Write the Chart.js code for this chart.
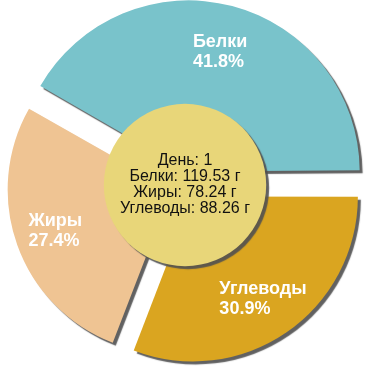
<!DOCTYPE html>
<html>
<head>
<meta charset="utf-8">
<script src="https://cdn.jsdelivr.net/npm/chart.js@4"></script>
<style>
  html, body { margin: 0; padding: 0; background: #fff; }
  #wrap { width: 370px; height: 370px; }
</style>
</head>
<body>
<div id="wrap"><canvas id="chartDay"></canvas></div>
<script>
// day summary data
const dayLabel = 'День: 1';
const categories = ['Углеводы', 'Жиры', 'Белки'];
const grams = [88.26, 78.24, 119.53];
const sliceColors = ['#daa520', '#efc493', '#79c3cb'];

const total = grams.reduce((a, b) => a + b, 0);

// drop shadow for slices and the centre disc
const shadowPlugin = {
    id: 'shadow',
    beforeDatasetsDraw(chart) {
        const ctx = chart.ctx;
        ctx.save();
        ctx.shadowColor = 'rgba(80,80,80,0.9)';
        ctx.shadowBlur = 1;
        ctx.shadowOffsetX = 3;
        ctx.shadowOffsetY = 3;
    },
    afterDatasetsDraw(chart) {
        chart.ctx.restore();
    }
};

// centre disc with the day totals + slice labels
const centrePlugin = {
    id: 'centre',
    afterDatasetsDraw(chart) {
        const ctx = chart.ctx;
        const meta = chart.getDatasetMeta(0);
        const arc0 = meta.data[0];
        const cx = arc0.x, cy = arc0.y;
        const r = arc0.outerRadius * 0.495;

        ctx.save();
        ctx.shadowColor = 'rgba(80,80,80,0.9)';
        ctx.shadowBlur = 1;
        ctx.shadowOffsetX = 3;
        ctx.shadowOffsetY = 3;
        ctx.beginPath();
        ctx.arc(cx, cy, r, 0, Math.PI * 2);
        ctx.fillStyle = '#e8d679';
        ctx.fill();
        ctx.restore();

        ctx.save();
        ctx.fillStyle = '#111';
        ctx.font = '16px "Liberation Sans", Arial, sans-serif';
        ctx.textAlign = 'center';
        ctx.textBaseline = 'middle';
        const lines = [dayLabel].concat(
            ['Белки', 'Жиры', 'Углеводы'].map(n => n + ': ' + grams[categories.indexOf(n)].toFixed(2) + ' г')
        );
        lines.forEach((t, i) => ctx.fillText(t, cx, cy - 24 + i * 16));
        ctx.restore();

        // slice labels
        ctx.save();
        ctx.fillStyle = '#fff';
        ctx.font = 'bold 18px "Liberation Sans", Arial, sans-serif';
        ctx.textAlign = 'left';
        ctx.textBaseline = 'middle';
        meta.data.forEach((arc, i) => {
            const mid = (arc.startAngle + arc.endAngle) / 2;
            const dist = arc.outerRadius * 0.84;
            const ax = arc.x + Math.cos(mid) * dist;
            const ay = arc.y + Math.sin(mid) * dist;
            const pct = (grams[i] / total * 100).toFixed(1) + '%';
            const w = Math.max(ctx.measureText(categories[i]).width, ctx.measureText(pct).width);
            ctx.fillText(categories[i], ax - w / 2, ay - 10);
            ctx.fillText(pct, ax - w / 2, ay + 10);
        });
        ctx.restore();
    }
};

new Chart(document.getElementById('chartDay'), {
    type: 'pie',
    data: {
        labels: categories,
        datasets: [{
            data: grams,
            backgroundColor: sliceColors,
            borderWidth: 0,
            offset: 56,
            hoverOffset: 56
        }]
    },
    options: {
        responsive: true,
        maintainAspectRatio: false,
        animation: false,
        rotation: 90,
        radius: 164,
        layout: { padding: 0 },
        events: [],
        plugins: {
            legend: { display: false },
            tooltip: { enabled: false }
        }
    },
    plugins: [shadowPlugin, centrePlugin]
});
</script>
</body>
</html>
